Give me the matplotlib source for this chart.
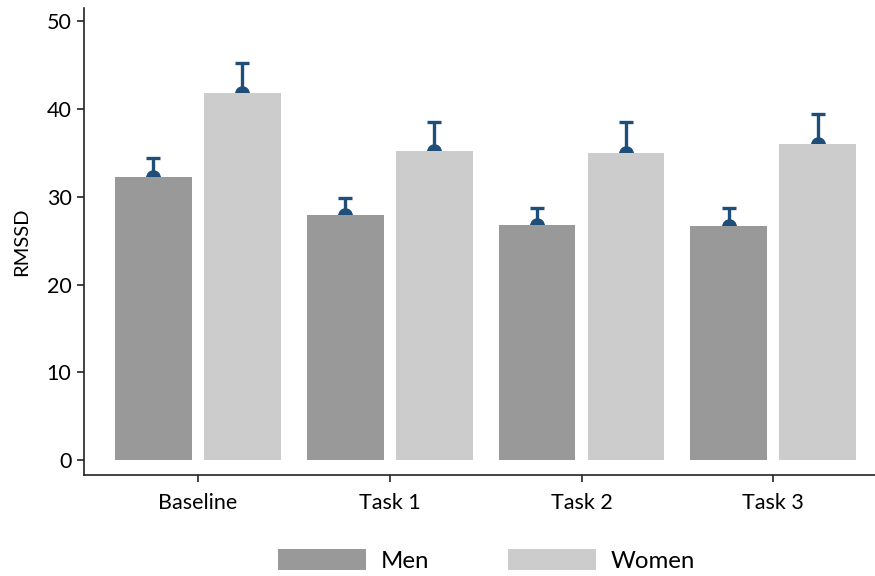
import numpy as np
import matplotlib.pyplot as plt
from matplotlib.patches import Patch

# RMSSD means and upper error by condition
conditions = ["Baseline", "Task 1", "Task 2", "Task 3"]
men_mean = [32.3, 27.9, 26.8, 26.7]
men_err = [2.1, 2.0, 1.9, 2.0]
women_mean = [41.8, 35.2, 35.0, 36.0]
women_err = [3.5, 3.3, 3.5, 3.4]

plt.rcParams["font.family"] = ["Lato", "DejaVu Sans"]

men_color = "#999999"
women_color = "#cccccc"
err_color = "#1f4e79"

fig = plt.figure(figsize=(8.75, 5.76), dpi=100)
ax = fig.add_axes([0.096, 0.175, 0.904, 0.811])

x = np.arange(len(conditions))
width = 0.40
offset = 0.232

for xs, means, errs, color in [(x - offset, men_mean, men_err, men_color),
                               (x + offset, women_mean, women_err, women_color)]:
    ax.bar(xs, means, width, color=color, zorder=2)
    # upper-only error bars with a dot sitting on the bar top
    ax.errorbar(xs, means, yerr=[np.zeros(len(errs)), errs], fmt="none",
                ecolor=err_color, elinewidth=2.4, capsize=4.7, capthick=2.4,
                zorder=1)
    ax.plot(xs, means, "o", color=err_color, markersize=9.5, zorder=1)

ax.set_xlim(-0.594, 3.53)
ax.set_ylim(-1.7, 51.5)
ax.set_yticks([0, 10, 20, 30, 40, 50])
ax.set_xticks(x)
ax.set_xticklabels(conditions)
ax.tick_params(axis="both", labelsize=15.5, length=5, width=1.2, color="#222222")
ax.tick_params(axis="y", pad=4)
ax.tick_params(axis="x", pad=8)
ax.set_ylabel("RMSSD", fontsize=14.5, labelpad=12)

for side in ["top", "right"]:
    ax.spines[side].set_visible(False)
for side in ["left", "bottom"]:
    ax.spines[side].set_linewidth(1.2)
    ax.spines[side].set_color("#222222")

handles = [Patch(facecolor=men_color, label="Men"),
           Patch(facecolor=women_color, label="Women")]
fig.legend(handles=handles, loc="lower center", bbox_to_anchor=(0.556, -0.03),
           ncol=2, frameon=False, fontsize=17.3, handlelength=3.67,
           handleheight=1.0, handletextpad=0.58, columnspacing=3.3)

fig.savefig("out.png", dpi=100)
